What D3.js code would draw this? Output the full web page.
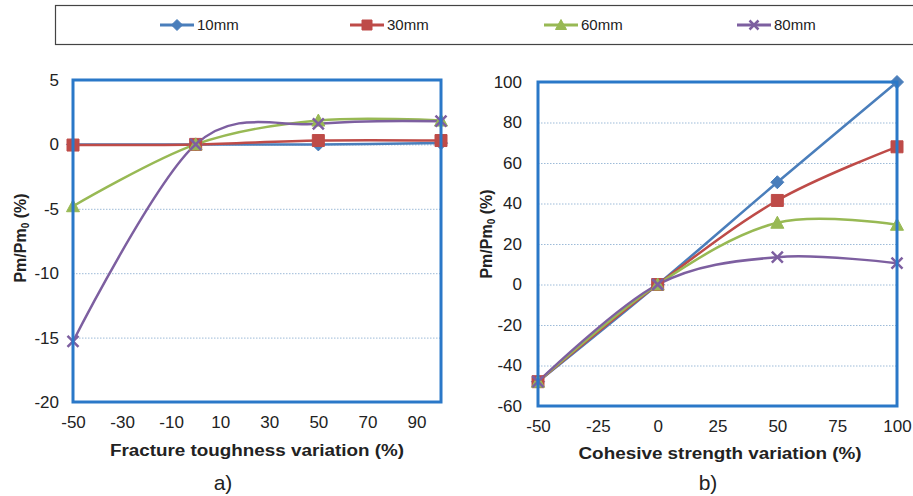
<!DOCTYPE html>
<html><head><meta charset="utf-8">
<script src="https://cdn.jsdelivr.net/npm/d3@7"></script>
<style>
html,body{margin:0;padding:0;background:#fff;}
svg{display:block;}
</style></head>
<body>
<svg id="c" width="913" height="496"></svg>
<script>
// ---------- data ----------
const seriesNames = ["10mm", "30mm", "60mm", "80mm"];
const xValues = [-50, 0, 50, 100];

// a) Fracture toughness variation
const toughness10 = [0, 0, 0.0, 0.1];
const toughness30 = [-0.05, 0, 0.3, 0.3];
const toughness60 = [-4.8, 0, 1.85, 1.85];
const toughness80 = [-15.3, 0, 1.6, 1.8];

// b) Cohesive strength variation
const cohesive10 = [-48, 0, 50.5, 100];
const cohesive30 = [-48, 0, 41.5, 68];
const cohesive60 = [-48, 0, 30.5, 29.5];
const cohesive80 = [-48, 0, 13.5, 10.5];

const xTicksA = [-50, -30, -10, 10, 30, 50, 70, 90];
const yTicksA = [-20, -15, -10, -5, 0, 5];
const xTicksB = [-50, -25, 0, 25, 50, 75, 100];
const yTicksB = [-60, -40, -20, 0, 20, 40, 60, 80, 100];

const xTitleA = "Fracture toughness variation (%)";
const xTitleB = "Cohesive strength variation (%)";
const panelLabels = ["a)", "b)"];

// ---------- styles ----------
const colors = ["#4a7ebb", "#be4b48", "#98b954", "#7d5fa0"];
const markers = ["diamond", "square", "triangle", "x"];
const borderColor = "#2a78c8";
const font = "'Liberation Sans', Arial, sans-serif";
const fmt = v => String(v);

const svg = d3.select("#c");

function markerPath(type, s) {
  const p = d3.path();
  const h = s / 2;
  if (type === "diamond") {
    p.moveTo(0, -h - 1); p.lineTo(h + 1, 0); p.lineTo(0, h + 1); p.lineTo(-h - 1, 0); p.closePath();
  } else if (type === "square") {
    p.rect(-h - 0.5, -h - 0.5, s + 1, s + 1);
  } else if (type === "triangle") {
    p.moveTo(0, -h - 1); p.lineTo(h + 1, h); p.lineTo(-h - 1, h); p.closePath();
  } else {
    p.moveTo(-h, -h); p.lineTo(h, h); p.moveTo(h, -h); p.lineTo(-h, h);
  }
  return p.toString();
}

function drawMarker(g, type, color, x, y, s) {
  const m = g.append("path").attr("d", markerPath(type, s))
    .attr("transform", `translate(${x},${y})`);
  if (type === "x") m.attr("fill", "none").attr("stroke", color).attr("stroke-width", 2.5);
  else m.attr("fill", color).attr("stroke", color).attr("stroke-width", 1);
}

// ---------- legend ----------
const legend = svg.append("g");
legend.append("rect").attr("x", 55.5).attr("y", 5.5).attr("width", 870).attr("height", 39)
  .attr("fill", "#fff").attr("stroke", "#444").attr("stroke-width", 1.2);
const legX = [160, 350, 544, 737];
seriesNames.forEach((n, i) => {
  const gx = legX[i];
  legend.append("line").attr("x1", gx).attr("x2", gx + 34).attr("y1", 25).attr("y2", 25)
    .attr("stroke", colors[i]).attr("stroke-width", 3);
  drawMarker(legend, markers[i], colors[i], gx + 17, 25, 9);
  legend.append("text").attr("x", gx + 37).attr("y", 30).text(n)
    .attr("font-family", "'Liberation Sans Narrow', 'Arial Narrow', " + font)
    .attr("font-size", 15).attr("fill", "#222");
});

// ---------- panel builder ----------
function panel(opts) {
  const g = svg.append("g");
  const x = d3.scaleLinear().domain(opts.xDomain).range(opts.xRange);
  const y = d3.scaleLinear().domain(opts.yDomain).range(opts.yRange);
  const [x0, x1] = opts.xRange, [y0, y1] = [opts.yRange[1], opts.yRange[0]];

  // gridlines
  g.append("g").attr("transform", `translate(${x0},0)`)
    .call(d3.axisLeft(y).tickValues(opts.yTicks).tickSize(-(x1 - x0)).tickFormat(""))
    .call(a => a.select(".domain").remove())
    .call(a => a.selectAll("line").attr("stroke", "#9dbbd8").attr("stroke-dasharray", "1.5,1.5").attr("stroke-width", 1));

  // y tick labels
  g.append("g").attr("transform", `translate(${x0 - opts.yLabelGap},0)`)
    .call(d3.axisLeft(y).tickValues(opts.yTicks).tickSize(0).tickPadding(0).tickFormat(fmt))
    .call(a => a.select(".domain").remove())
    .call(a => a.selectAll("text").attr("font-family", font).attr("font-size", 17).attr("fill", "#222"));

  // x tick labels
  g.append("g").attr("transform", `translate(0,${y1 + opts.xLabelGap})`)
    .call(d3.axisBottom(x).tickValues(opts.xTicks).tickSize(0).tickPadding(0).tickFormat(fmt))
    .call(a => a.select(".domain").remove())
    .call(a => a.selectAll("text").attr("font-family", font).attr("font-size", 17).attr("fill", "#222"));

  // series lines
  const line = d3.line().x(d => x(d[0])).y(d => y(d[1])).curve(d3.curveCardinal.tension(0));
  opts.series.forEach((vals, i) => {
    const pts = xValues.map((xv, k) => [xv, vals[k]]);
    g.append("path").attr("d", line(pts)).attr("fill", "none")
      .attr("stroke", colors[i]).attr("stroke-width", 2.5);
  });
  opts.series.forEach((vals, i) => {
    xValues.forEach((xv, k) => drawMarker(g, markers[i], colors[i], x(xv), y(vals[k]), 11));
  });

  // border
  g.append("rect").attr("x", x0).attr("y", y0).attr("width", x1 - x0).attr("height", y1 - y0)
    .attr("fill", "none").attr("stroke", borderColor).attr("stroke-width", 3);

  // x title
  g.append("text").attr("x", opts.xTitlePos[0]).attr("y", opts.xTitlePos[1])
    .attr("text-anchor", "middle").attr("font-family", font).attr("font-weight", "bold")
    .attr("font-size", 16).attr("fill", "#222")
    .attr("textLength", opts.xTitleLen).attr("lengthAdjust", "spacingAndGlyphs")
    .text(opts.xTitle);

  // y title
  const yt = g.append("text").attr("transform", `translate(${opts.yTitlePos[0]},${opts.yTitlePos[1]}) rotate(-90)`)
    .attr("text-anchor", "middle").attr("font-family", font).attr("font-weight", "bold")
    .attr("font-size", 16).attr("fill", "#222");
  yt.append("tspan").text("Pm/Pm");
  yt.append("tspan").attr("font-size", 10).attr("dy", 3).text("0");
  yt.append("tspan").attr("dy", -3).text(" (%)");

  // panel label
  g.append("text").attr("x", opts.labelPos[0]).attr("y", opts.labelPos[1])
    .attr("text-anchor", "middle").attr("font-family", font).attr("font-size", 21)
    .attr("fill", "#222").text(opts.label);
}

panel({
  xDomain: [-50, 100], xRange: [73, 441],
  yDomain: [-20, 5], yRange: [402, 80],
  xTicks: xTicksA, yTicks: yTicksA,
  series: [toughness10, toughness30, toughness60, toughness80],
  yLabelGap: 14, xLabelGap: 14,
  xTitle: xTitleA, xTitlePos: [257, 456], xTitleLen: 294,
  yTitlePos: [26, 238],
  label: panelLabels[0], labelPos: [223, 490]
});

panel({
  xDomain: [-50, 100], xRange: [538, 897],
  yDomain: [-60, 100], yRange: [406, 82],
  xTicks: xTicksB, yTicks: yTicksB,
  series: [cohesive10, cohesive30, cohesive60, cohesive80],
  yLabelGap: 16, xLabelGap: 14,
  xTitle: xTitleB, xTitlePos: [720, 459], xTitleLen: 283,
  yTitlePos: [492, 234],
  label: panelLabels[1], labelPos: [708, 490]
});
</script>
</body></html>
